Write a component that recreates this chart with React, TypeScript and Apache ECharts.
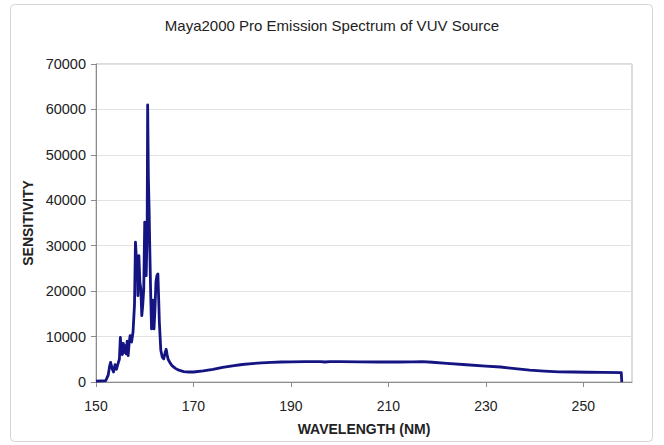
import React, { useEffect, useRef } from "react";
import * as echarts from "echarts";

const titleText = "Maya2000 Pro Emission Spectrum of VUV Source";
const xAxisName = "WAVELENGTH (NM)";
const yAxisName = "SENSITIVITY";

const wavelength = [
  150, 151, 152, 152.5, 152.8, 153.0, 153.3, 153.6, 153.9, 154.2, 154.5, 154.8,
  155.0, 155.2, 155.4, 155.6, 155.8, 156.0, 156.2, 156.4, 156.6, 156.8, 157.0,
  157.3, 157.6, 157.9, 158.1, 158.3, 158.5, 158.6, 158.8, 159.0, 159.2, 159.4,
  159.6, 159.8, 160.0, 160.2, 160.3, 160.5, 160.6, 160.75, 160.9, 161.0, 161.2,
  161.4, 161.6, 161.7, 161.9, 162.1, 162.3, 162.5, 162.7, 162.9, 163.0, 163.3,
  163.6, 163.9, 164.2, 164.4, 164.6, 164.8, 165.2, 165.6, 166.3, 167.0, 168.0,
  169.0, 170.0, 172, 174, 176, 178, 180, 182, 184, 186, 188, 190, 193, 196, 197,
  198, 200, 204, 208, 212, 215, 217, 219, 222, 226, 230, 233, 236, 239, 242, 245,
  248, 251, 254, 257.8, 257.9,
];

const sensitivity = [
  200, 250, 300, 1500, 3500, 4300, 3000, 2200, 3800, 2800, 4000, 5000,
  9800, 7000, 6000, 8500, 6500, 8000, 6200, 9000, 5800, 8500, 10200,
  8800, 11000, 17000, 30800, 27000, 26400, 19000, 27800, 22000, 20500, 14600,
  17000, 20500, 35200, 28000, 23400, 33700, 61000, 45000, 38000, 31600, 20500,
  11700, 15000, 18000, 11700, 16000, 22000, 23400, 23800, 17000, 13200, 7000,
  5500, 5100, 6500, 7200, 6000, 5000, 4200, 3600, 3000, 2600, 2300,
  2200, 2200, 2450, 2800, 3200, 3550, 3850, 4050, 4200, 4300, 4400, 4450, 4500, 4500, 4400,
  4500, 4500, 4450, 4400, 4400, 4450, 4500, 4350, 4100, 3800, 3500, 3300, 2950, 2600, 2400, 2250,
  2200, 2150, 2100, 2050, 0,
];

const xMin = 150;
const xMax = 260;
const xStep = 20;
const yMin = 0;
const yMax = 70000;
const yStep = 10000;

const FONT = "Liberation Sans, Arial, sans-serif";

export default function App() {
  const ref = useRef<HTMLDivElement>(null);
  useEffect(() => {
    if (!ref.current) return;
    const chart = echarts.init(ref.current, undefined, { renderer: "svg" });
    const points = wavelength.map((w, i) => [w, sensitivity[i]]);
    chart.setOption({
      animation: false,
      backgroundColor: "#ffffff",
      graphic: [
        {
          type: "rect",
          shape: { x: 10.5, y: 4.5, width: 642, height: 437, r: 4 },
          style: { fill: "none", stroke: "#d4d4d4", lineWidth: 1 },
          silent: true,
          z: -1,
        },
      ],
      title: {
        text: titleText,
        left: "center",
        top: 13,
        textStyle: {
          fontFamily: FONT,
          fontSize: 15,
          fontWeight: "normal",
          color: "#222222",
        },
      },
      grid: {
        left: 96,
        top: 64,
        right: 32,
        bottom: 63,
        show: true,
        borderColor: "#b8b8b8",
        borderWidth: 1,
        backgroundColor: "transparent",
      },
      xAxis: {
        type: "value",
        min: xMin,
        max: xMax,
        interval: xStep,
        name: xAxisName,
        nameLocation: "middle",
        nameGap: 40,
        nameTextStyle: {
          fontFamily: FONT,
          fontSize: 14,
          fontWeight: "bold",
          color: "#222222",
        },
        axisLine: { show: true, lineStyle: { color: "#8c8c8c", width: 1 } },
        axisTick: { show: true, length: 5, lineStyle: { color: "#8c8c8c" } },
        splitLine: { show: false },
        axisLabel: {
          showMaxLabel: false,
          margin: 17,
          fontFamily: FONT,
          fontSize: 14,
          color: "#222222",
          formatter: (v: number) => String(v),
        },
      },
      yAxis: {
        type: "value",
        min: yMin,
        max: yMax,
        interval: yStep,
        name: yAxisName,
        nameLocation: "middle",
        nameGap: 53,
        nameTextStyle: {
          fontFamily: FONT,
          fontSize: 14,
          fontWeight: "bold",
          color: "#222222",
        },
        axisLine: { show: true, lineStyle: { color: "#8c8c8c", width: 1 } },
        axisTick: { show: true, length: 5, lineStyle: { color: "#8c8c8c" } },
        splitLine: { show: true, lineStyle: { color: "#e2e2e2", width: 1 } },
        axisLabel: {
          margin: 10,
          fontFamily: FONT,
          fontSize: 14.5,
          color: "#222222",
          formatter: (v: number) => String(v),
        },
      },
      series: [
        {
          type: "line",
          data: points,
          showSymbol: false,
          symbol: "none",
          lineStyle: { color: "#141482", width: 2.8, join: "round" },
          itemStyle: { color: "#141482" },
        },
      ],
    });
    return () => chart.dispose();
  }, []);
  return (
    <div
      ref={ref}
      style={{ position: "absolute", left: 0, top: 0, width: 664, height: 445 }}
    />
  );
}
